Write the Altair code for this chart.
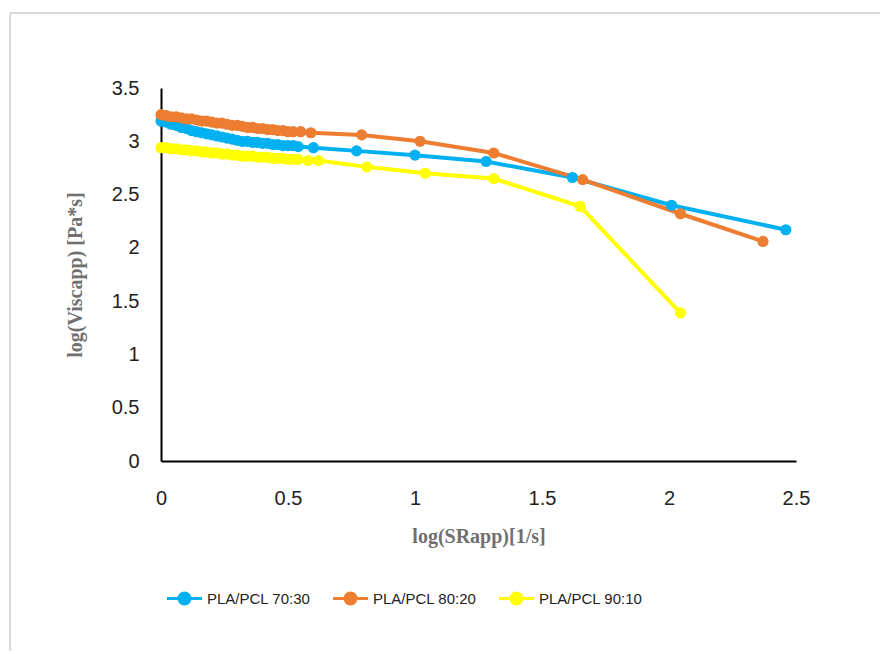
import altair as alt
import pandas as pd

series_names = ["PLA/PCL 70:30", "PLA/PCL 80:20", "PLA/PCL 90:10"]
colors = ["#00B0F0", "#ED7D31", "#FFFF00"]

x_7030 = [0.00, 0.02, 0.04, 0.06, 0.08, 0.10, 0.12, 0.14, 0.16, 0.18, 0.20, 0.22, 0.24, 0.26,
          0.28, 0.30, 0.32, 0.34, 0.36, 0.38, 0.40, 0.42, 0.44, 0.46, 0.48, 0.50, 0.52, 0.54,
          0.60, 0.77, 1.00, 1.28, 1.62, 2.01, 2.46]
y_7030 = [3.19, 3.18, 3.16, 3.15, 3.13, 3.12, 3.10, 3.09, 3.08, 3.07, 3.06, 3.05, 3.04, 3.03,
          3.02, 3.01, 3.00, 3.00, 2.99, 2.99, 2.98, 2.98, 2.97, 2.97, 2.96, 2.96, 2.96, 2.95,
          2.94, 2.91, 2.87, 2.81, 2.66, 2.40, 2.17]

x_8020 = [0.00, 0.02, 0.04, 0.06, 0.08, 0.10, 0.12, 0.14, 0.16, 0.18, 0.20, 0.22, 0.24, 0.26,
          0.28, 0.30, 0.32, 0.34, 0.36, 0.38, 0.40, 0.42, 0.44, 0.46, 0.48, 0.50, 0.52, 0.55,
          0.59, 0.79, 1.02, 1.31, 1.66, 2.045, 2.37]
y_8020 = [3.25, 3.24, 3.23, 3.23, 3.22, 3.21, 3.21, 3.20, 3.19, 3.19, 3.18, 3.17, 3.17, 3.16,
          3.15, 3.15, 3.14, 3.13, 3.13, 3.12, 3.12, 3.11, 3.11, 3.10, 3.10, 3.09, 3.09, 3.09,
          3.08, 3.06, 3.00, 2.89, 2.64, 2.32, 2.06]

x_9010 = [0.00, 0.02, 0.04, 0.06, 0.08, 0.10, 0.12, 0.14, 0.16, 0.18, 0.20, 0.22, 0.24, 0.26,
          0.28, 0.30, 0.32, 0.34, 0.36, 0.38, 0.40, 0.42, 0.44, 0.46, 0.48, 0.50, 0.52, 0.54,
          0.58, 0.62, 0.81, 1.04, 1.31, 1.65, 2.045]
y_9010 = [2.94, 2.94, 2.93, 2.93, 2.92, 2.92, 2.91, 2.91, 2.90, 2.90, 2.89, 2.89, 2.88, 2.88,
          2.87, 2.87, 2.86, 2.86, 2.86, 2.85, 2.85, 2.85, 2.84, 2.84, 2.84, 2.83, 2.83, 2.83,
          2.82, 2.82, 2.76, 2.70, 2.65, 2.39, 1.39]

rows = []
for name, xs, ys in zip(series_names, [x_7030, x_8020, x_9010], [y_7030, y_8020, y_9010]):
    for i, (xv, yv) in enumerate(zip(xs, ys)):
        rows.append({"series": name, "x": xv, "y": yv, "order": i})
df = pd.DataFrame(rows)

color_scale = alt.Scale(domain=series_names, range=colors)

x_enc = alt.X("x:Q", title="log(SRapp)[1/s]",
              scale=alt.Scale(domain=[0, 2.5], nice=False),
              axis=alt.Axis(values=[0, 0.5, 1, 1.5, 2, 2.5], grid=False, ticks=False,
                            format=".1~f", labelFlush=False,
                            domain=True, domainColor="#000000", domainWidth=2,
                            labelFont="Liberation Sans", labelFontSize=20, labelColor="#222222",
                            labelPadding=27, titleFont="Liberation Serif", titleFontSize=20,
                            titleFontWeight="bold", titleColor="#707070", titlePadding=18))
y_enc = alt.Y("y:Q", title="log(Viscapp) [Pa*s]",
              scale=alt.Scale(domain=[0, 3.5], nice=False),
              axis=alt.Axis(values=[0, 0.5, 1, 1.5, 2, 2.5, 3, 3.5], grid=False, ticks=False,
                            format=".1~f", labelFlush=False,
                            domain=True, domainColor="#000000", domainWidth=2,
                            labelFont="Liberation Sans", labelFontSize=20, labelColor="#222222",
                            labelPadding=22, titleFont="Liberation Serif", titleFontSize=20,
                            titleFontWeight="bold", titleColor="#707070", titlePadding=26))

legend = alt.Legend(title=None, orient="none", direction="horizontal", legendX=11, legendY=498,
                    symbolType="M-1.6,0H1.6M0.5,0A0.5,0.5,0,1,1,-0.5,0A0.5,0.5,0,1,1,0.5,0Z",
                    symbolSize=480, symbolStrokeWidth=3, labelFont="Liberation Sans",
                    labelFontSize=15, labelColor="#222222", columnPadding=15, labelOffset=10)

base = alt.Chart(df)
lines = base.mark_line(strokeWidth=4).encode(
    x=x_enc, y=y_enc,
    color=alt.Color("series:N", scale=color_scale, legend=legend),
    order="order:Q",
    detail="series:N",
)
points = base.mark_point(filled=True, size=125, opacity=1).encode(
    x="x:Q", y="y:Q",
    fill=alt.Fill("series:N", scale=color_scale, legend=None),
    color=alt.Color("series:N", scale=color_scale, legend=legend),
)

# light grey frame of the chart area (top and left edges)
frame_top = alt.Chart(df).mark_rule(color="#d9d9d9", strokeWidth=2).encode(
    x=alt.value(-151), x2=alt.value(740), y=alt.value(-75))
frame_left = alt.Chart(df).mark_rule(color="#d9d9d9", strokeWidth=2).encode(
    x=alt.value(-151), y=alt.value(-75), y2=alt.value(600))

chart = alt.layer(frame_top, frame_left, lines, points).properties(
    width=635, height=373,
    autosize=alt.AutoSizeParams(type="none"),
    padding={"left": 153, "top": 80, "right": 84, "bottom": 190},
).configure_view(stroke=None)

chart.save("out.html", embed_options={"renderer": "svg", "actions": False})
